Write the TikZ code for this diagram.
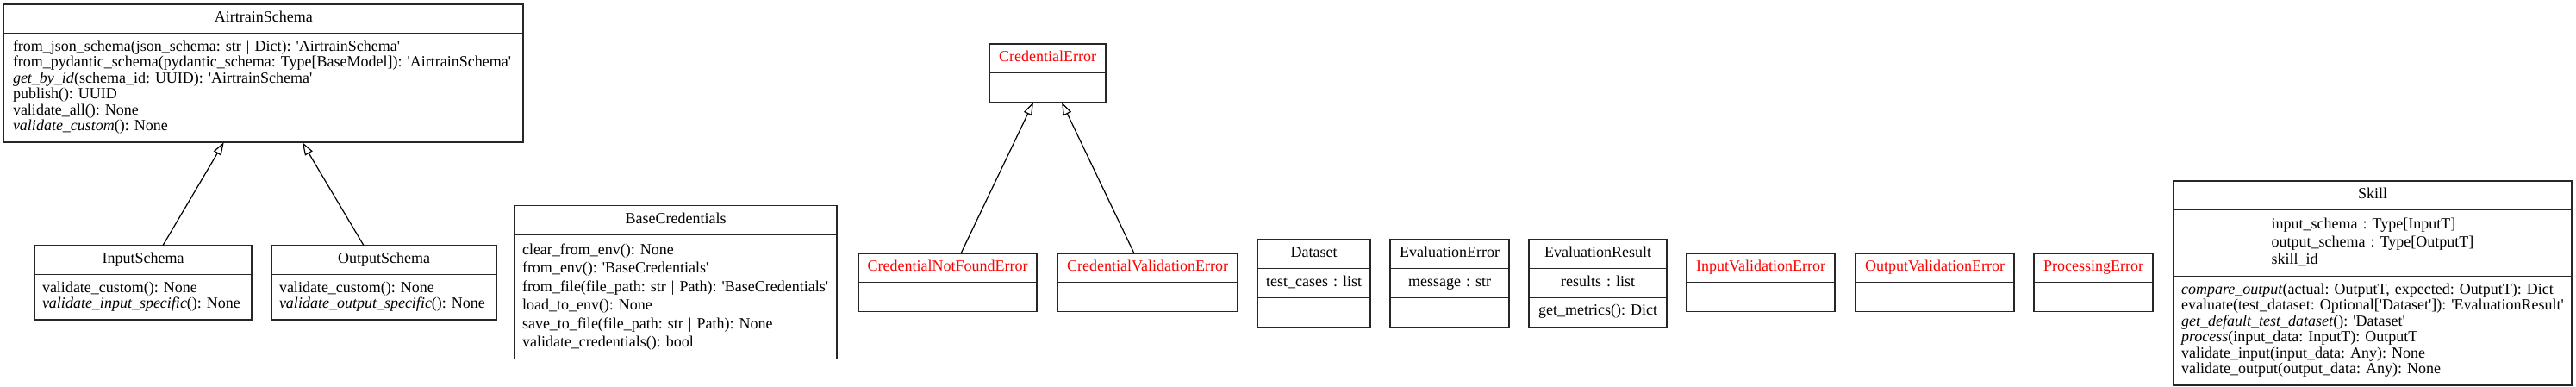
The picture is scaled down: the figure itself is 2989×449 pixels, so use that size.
\documentclass[tikz,border=0pt]{standalone}
\usepackage{fontspec}
\setmainfont{Liberation Serif}
\usepackage{tikz}
\usetikzlibrary{shapes,arrows.meta}
\tikzstyle{classbox} = [rectangle split, rectangle split parts=2, draw=black!85, line width=1.3pt, anchor=north west, inner xsep=9pt, inner ysep=7pt, outer sep=0pt, font=\fontsize{18}{18.5}\selectfont\frenchspacing]
\tikzstyle{databox} = [classbox, rectangle split parts=3]
\tikzstyle{errorbox} = [classbox, text=red]
\tikzstyle{line} = [draw, line width=1.2pt, -{Triangle[open, length=15pt, width=10pt]}]
\newcommand{\sq}[1]{\textquotesingle#1\textquotesingle}

\begin{document}
\begin{tikzpicture}[x=1pt, y=-1pt]
\path [use as bounding box, fill=white] (0, 0) rectangle (2989, 449);

% schemas
\node [classbox, text width=584.5pt] at (4.5, 5) (airtrain) {\centering\strut AirtrainSchema\par
\nodepart{two}\hspace*{1.5pt}\begin{tabular}{@{}l@{}}
from\_json\_schema(json\_schema: str | Dict): \sq{AirtrainSchema}\\
from\_pydantic\_schema(pydantic\_schema: Type[BaseModel]): \sq{AirtrainSchema}\\
\textit{get\_by\_id}(schema\_id: UUID): \sq{AirtrainSchema}\\
publish(): UUID\\
validate\_all(): None\\
\textit{validate\_custom}(): None
\end{tabular}};

\node [classbox, text width=234pt] at (40, 284.75) (inschema) {\centering\strut InputSchema\par
\nodepart{two}\begin{tabular}{@{}l@{}}
validate\_custom(): None\\
\textit{validate\_input\_specific}(): None
\end{tabular}};
\node [classbox, text width=243pt] at (315, 284.75) (outschema) {\centering\strut OutputSchema\par
\nodepart{two}\begin{tabular}{@{}l@{}}
validate\_custom(): None\\
\textit{validate\_output\_specific}(): None
\end{tabular}};

\path [line] ([xshift=23pt]inschema.north) -- ([xshift=-46pt]airtrain.south);
\path [line] ([xshift=-23.5pt]outschema.north) -- ([xshift=45pt]airtrain.south);

% credentials
\node [classbox, text width=356pt] at (597, 238.75) (basecred) {\centering\strut BaseCredentials\par
\nodepart{two}\renewcommand{\arraystretch}{1.16}\begin{tabular}{@{}l@{}}
clear\_from\_env(): None\\
from\_env(): \sq{BaseCredentials}\\
from\_file(file\_path: str | Path): \sq{BaseCredentials}\\
load\_to\_env(): None\\
save\_to\_file(file\_path: str | Path): None\\
validate\_credentials(): bool
\end{tabular}};

\node [errorbox, text width=117pt] at (1148, 51) (crederr) {\centering\strut CredentialError\par \nodepart{two}\strut};
\node [errorbox, text width=189pt] at (996, 294) (crednotfound) {\centering\strut CredentialNotFoundError\par \nodepart{two}\strut};
\node [errorbox, text width=191pt] at (1227, 294) (credvalid) {\centering\strut CredentialValidationError\par \nodepart{two}\strut};

\path [line] ([xshift=15.5pt]crednotfound.north) -- ([xshift=-16.5pt]crederr.south);
\path [line] ([xshift=-15.5pt]credvalid.north) -- ([xshift=16.5pt]crederr.south);

% evaluation
\node [databox, text width=113pt] at (1459, 277.75) (dataset) {\centering\strut Dataset\par
\nodepart{two}\centering\strut test\_cases~:~list\par
\nodepart{three}\strut};
\node [databox, text width=120pt] at (1613, 277.75) (evalerr) {\centering\strut EvaluationError\par
\nodepart{two}\centering\strut message~:~str\par
\nodepart{three}\strut};
\node [databox, text width=142pt] at (1774, 277.75) (evalres) {\centering\strut EvaluationResult\par
\nodepart{two}\centering\strut results~:~list\par
\nodepart{three}\centering\strut get\_metrics():~Dict\par};

% skill errors
\node [errorbox, text width=154pt] at (1957, 294) (invaliderr) {\centering\strut InputValidationError\par \nodepart{two}\strut};
\node [errorbox, text width=166pt] at (2153, 294) (outvaliderr) {\centering\strut OutputValidationError\par \nodepart{two}\strut};
\node [errorbox, text width=120pt] at (2360, 294) (procerr) {\centering\strut ProcessingError\par \nodepart{two}\strut};

% skill
\node [databox, text width=444pt] at (2522, 210) (skill) {\centering\strut Skill\par
\nodepart{two}\centering\renewcommand{\arraystretch}{1.108}\begin{tabular}{@{}l@{}}
input\_schema : Type[InputT]\\
output\_schema : Type[OutputT]\\
skill\_id
\end{tabular}\par
\nodepart{three}\begin{tabular}{@{}l@{}}
\textit{compare\_output}(actual: OutputT, expected: OutputT): Dict\\
evaluate(test\_dataset: Optional[\sq{Dataset}]): \sq{EvaluationResult}\\
\textit{get\_default\_test\_dataset}(): \sq{Dataset}\\
\textit{process}(input\_data: InputT): OutputT\\
validate\_input(input\_data: Any): None\\
validate\_output(output\_data: Any): None
\end{tabular}};

\end{tikzpicture}
\end{document}
